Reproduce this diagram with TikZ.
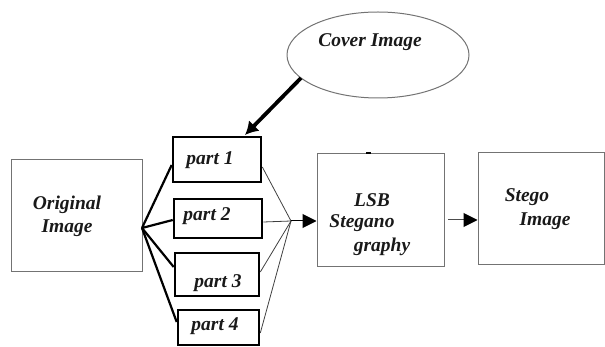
\documentclass[tikz,border=0pt]{standalone}
\usepackage{fontspec}
\setmainfont{Liberation Serif}
\usetikzlibrary{shapes.geometric,arrows.meta}
\tikzset{
  thinbox/.style={draw=black!55,line width=1pt,rectangle,inner sep=0pt},
  partbox/.style={draw=black,line width=2.6pt,rectangle,inner sep=0pt},
  lbl/.style={font=\fontsize{19.5}{23}\selectfont\bfseries\itshape,text=black!90,inner sep=0pt,align=center},
  thickline/.style={line width=2.2pt,black},
  fanline/.style={line width=0.8pt,black!75},
  tri/.style={-{Triangle[length=14pt,width=14pt,black]}},
}
\begin{document}
\begin{tikzpicture}[x=1pt,y=-1pt]
\useasboundingbox (0,0) rectangle (605,347);
% ellipse
\node[ellipse,draw=black!55,line width=1pt,minimum width=182,minimum height=86,inner sep=0pt] (cover) at (378,55) {};
\node[lbl] (covert) at (370,42) {Cover Image};
% original
\node[thinbox,minimum width=131,minimum height=112] (orig) at (76.5,216) {};
\node[lbl] (origt) at (67,216) {Original\\Image};
% parts
\node[partbox,minimum width=88,minimum height=45] (p1) at (217,159.5) {};
\node[lbl] (p1t) at (210,160) {part 1};
\node[partbox,minimum width=88,minimum height=39] (p2) at (218,218.5) {};
\node[lbl] (p2t) at (207,216) {part 2};
\node[partbox,minimum width=84,minimum height=43] (p3) at (217,274.5) {};
\node[lbl] (p3t) at (218,283) {part 3};
\node[partbox,minimum width=81,minimum height=35] (p4) at (218.5,327.5) {};
\node[lbl] (p4t) at (215,326) {part 4};
% LSB
\node[thinbox,minimum width=127,minimum height=113] (lsb) at (380.5,210.5) {};
\node[lbl] (lsb1) at (372,200) {LSB};
\node[lbl] (lsb2) at (362,223) {Stegano};
\node[lbl] (lsb3) at (382,247) {graphy};
\draw[line width=2pt] (366,153.5) -- (371,153.5);
% Stego
\node[thinbox,minimum width=126,minimum height=112] (stego) at (541,209) {};
\node[lbl] (st1) at (527,197) {Stego};
\node[lbl] (st2) at (545,221) {Image};
% connectors
\coordinate (o) at (142,228);
\coordinate (J) at (291,221);
\coordinate (cs) at (301,78);
\draw[line width=3.8pt,-{Latex[length=13pt,width=15pt]}] (cs) -- (245,135);
\draw[thickline] (o) -- (p1.west |- 0,165);
\draw[thickline] (o) -- (p2.west |- 0,220);
\draw[thickline] (o) -- (p3.west |- 0,267);
\draw[thickline] (o) -- (p4.west |- 0,322);
\draw[fanline] (p1.east |- 0,167) -- (J);
\draw[fanline] (p2.east |- 0,222) -- (J);
\draw[fanline] (p3.east |- 0,272) -- (J);
\draw[fanline] (p4.east |- 0,333) -- (J);
\draw[line width=1pt,tri] (J) -- (lsb.west |- J);
\coordinate (ls) at (448,220);
\draw[line width=1pt,black!70,tri] (ls) -- (stego.west |- ls);
\end{tikzpicture}
\end{document}
